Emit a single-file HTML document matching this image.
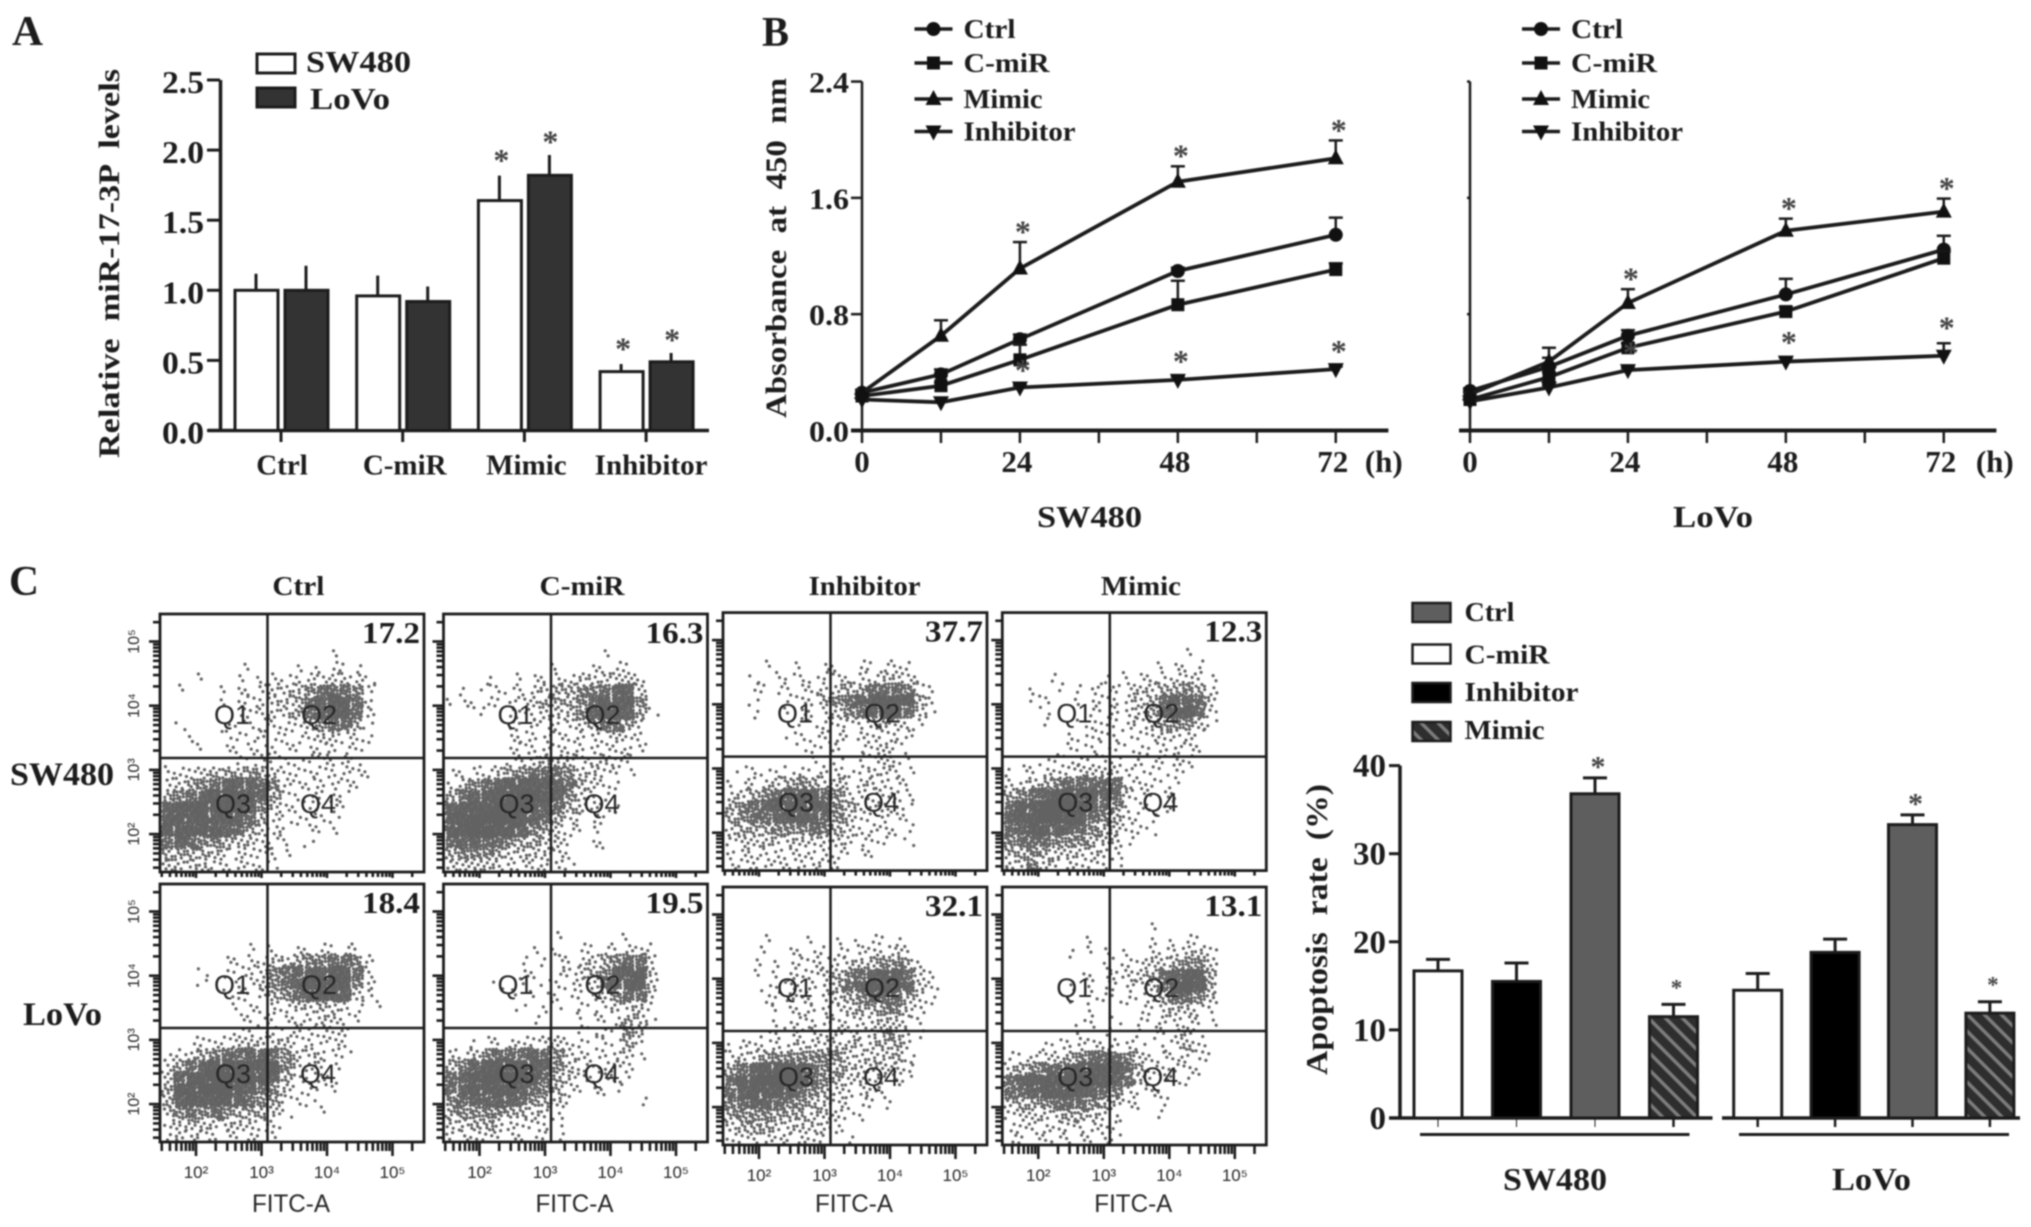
<!DOCTYPE html>
<html lang="en">
<head>
<meta charset="utf-8">
<title>miR-17-3P figure</title>
<style>
html,body{margin:0;padding:0;background:#fff;width:2031px;height:1227px;overflow:hidden}
#figure{display:block;filter:blur(0.9px)}
.s{font-family:"Liberation Serif",serif;font-weight:bold;fill:#1c1c1c}
.f{font-family:"Liberation Sans",sans-serif;fill:#262626}
</style>
</head>
<body>
<svg id="figure" xmlns="http://www.w3.org/2000/svg" width="2031" height="1227" viewBox="0 0 2031 1227">
  <defs>
    <pattern id="hatch" width="12" height="12" patternUnits="userSpaceOnUse" patternTransform="rotate(-45)">
      <rect width="12" height="12" fill="#2e2e2e"/>
      <rect x="0" width="3.5" height="12" fill="#7c7c7c"/>
    </pattern>
  </defs>
  <rect width="2031" height="1227" fill="#fff"/>

  <text class="s" x="12" y="45" font-size="42" textLength="31" lengthAdjust="spacingAndGlyphs">A</text>
  <text class="s" x="762" y="46" font-size="42" textLength="27" lengthAdjust="spacingAndGlyphs">B</text>
  <text class="s" x="9" y="595" font-size="42" textLength="30" lengthAdjust="spacingAndGlyphs">C</text>

  <text class="s" transform="translate(119 458) rotate(-90)" font-size="30" textLength="389" lengthAdjust="spacingAndGlyphs" xml:space="preserve">Relative  miR-17-3P  levels</text>
  <text class="s" transform="translate(786 418) rotate(-90)" font-size="30" textLength="340" lengthAdjust="spacingAndGlyphs" xml:space="preserve">Absorbance  at  450  nm</text>
  <text class="s" transform="translate(1327 1075) rotate(-90)" font-size="31" textLength="291" lengthAdjust="spacingAndGlyphs" xml:space="preserve">Apoptosis  rate  (%)</text>

  <text class="s" x="1037" y="527" font-size="31" textLength="105" lengthAdjust="spacingAndGlyphs">SW480</text>
  <text class="s" x="1673" y="527" font-size="31" textLength="80" lengthAdjust="spacingAndGlyphs">LoVo</text>
  <text class="s" x="1503" y="1190" font-size="32" textLength="104" lengthAdjust="spacingAndGlyphs">SW480</text>
  <text class="s" x="1832" y="1190" font-size="32" textLength="79" lengthAdjust="spacingAndGlyphs">LoVo</text>

  <text class="s" x="10" y="785" font-size="33" textLength="104" lengthAdjust="spacingAndGlyphs">SW480</text>
  <text class="s" x="23" y="1025" font-size="33" textLength="79" lengthAdjust="spacingAndGlyphs">LoVo</text>

  <g id="panelA"></g>
  <g id="panelB"></g>
  <g id="panelFlow"></g>
  <g id="panelC"></g>
</svg>

<script>
/* ---------- Panel A data ---------- */
const aCategories = ["Ctrl", "C-miR", "Mimic", "Inhibitor"];
const aSw480 = [1.0, 0.96, 1.64, 0.42];
const aLovo = [1.0, 0.92, 1.82, 0.49];
const aSw480Err = [1.118, 1.105, 1.818, 0.474];
const aLovoErr = [1.175, 1.027, 1.965, 0.553];
const aSw480Star = [false, false, true, true];
const aLovoStar = [false, false, true, true];
const aTicks = ["0.0", "0.5", "1.0", "1.5", "2.0", "2.5"];

/* ---------- Panel B data ---------- */
const hours = [0, 12, 24, 48, 72];
const hourTicks = [0, 12, 24, 36, 48, 60, 72];
const hourLabels = [0, 24, 48, 72];
const bTicks = ["0.0", "0.8", "1.6", "2.4"];
const seriesNames = ["Ctrl", "C-miR", "Mimic", "Inhibitor"];

const swCtrl = [0.26, 0.386, 0.628, 1.097, 1.346];
const swCmir = [0.237, 0.308, 0.486, 0.865, 1.107];
const swMimic = [0.26, 0.652, 1.114, 1.711, 1.872];
const swInhib = [0.213, 0.194, 0.296, 0.348, 0.422];
const swCtrlErr = [0.28, 0.42, 0.66, 1.12, 1.464];
const swCmirErr = [0.25, 0.33, 0.59, 1.03, 1.15];
const swMimicErr = [0.28, 0.758, 1.296, 1.817, 1.995];
const swInhibErr = [0.22, 0.2, 0.31, 0.37, 0.44];

const loCtrl = [0.272, 0.438, 0.652, 0.936, 1.244];
const loCmir = [0.213, 0.367, 0.569, 0.818, 1.185];
const loMimic = [0.249, 0.474, 0.877, 1.374, 1.505];
const loInhib = [0.2, 0.296, 0.415, 0.474, 0.514];
const loCtrlErr = [0.29, 0.5, 0.69, 1.043, 1.339];
const loCmirErr = [0.22, 0.4, 0.6, 0.85, 1.23];
const loMimicErr = [0.26, 0.569, 0.972, 1.457, 1.595];
const loInhibErr = [0.21, 0.31, 0.43, 0.5, 0.6];

const mimicStars = [false, false, true, true, true];
const inhibStars = [false, false, true, true, true];

/* ---------- Panel C bar data ---------- */
const cTicks = [0, 10, 20, 30, 40];
const cGroups = ["C-miR", "Inhibitor", "Ctrl", "Mimic"];
const cSw480 = [16.7, 15.5, 36.8, 11.5];
const cLovo = [14.5, 18.8, 33.3, 11.9];
const cSw480Err = [18.0, 17.6, 38.6, 12.9];
const cLovoErr = [16.4, 20.3, 34.4, 13.2];
const cStars = [false, false, true, true];
const cLegend = ["Ctrl", "C-miR", "Inhibitor", "Mimic"];

/* ---------- Flow plots: event density per grid cell (0-9) ---------- */
const flowConditions = ["Ctrl", "C-miR", "Inhibitor", "Mimic"];
const percentSw480 = ["17.2", "16.3", "37.7", "12.3"];
const percentLovo = ["18.4", "19.5", "32.1", "13.1"];
const densitySwCtrl = ["","","",
"0000000000000010000000","0000000100010111100000","0001001012122233210000",
"0100011123335666520000","0000011223346788620000","0000001223346788620000",
"0100011122123566410000","0010011121112332210000","0001011212111221200000",
"0000001111111222100000","1223444443212222210000","2345677765222222100000",
"4567888874211221000000","7888888753211111000000","8888887642111110000000",
"8888876432101110000000","6765543322101000000000","4444322222100000000000",
"3333222211000000000000"];
const densitySwCmir = ["","","",
"0000000000000100000000","0000000001001111000000","0001001112233333200000",
"0101112234455677300000","1111122344456888500000","0001012233357887410000",
"0000011212234664200000","0000012222222232200000","0000012222222222200000",
"0000012333322322000000","1122345666533221000000","2356788887643210000000",
"4678889987532100000000","7888999876432110000000","8899998764211100000000",
"8899887543211000000000","6776654433101100000000","4555433332100000000000",
"3333322222100000000000"];
const densitySwInhib = ["","","","",
"0001001011011121000000","0010111112122332100000",
"0011111223446665210000","0010012245678888420000","0010011123567886310000",
"0000001112223432100000","0000011122122222000000","0000001112012320000000",
"0000000101012321000000","0111111122113321000000","1122345433223221000000",
"2345678765322222000000","4567888875422321000000","4566788765321221000000",
"3444555654322211000000","2333333333212101000000","2222222222111000000000",
"1222222222000000000000"];
const densitySwMimic = ["","","",
"0000000000000001000000","0000000000000111100000","0000100010112122210000",
"0010101212233445420000","0011001122234677630000","0001000112234788620000",
"0001001121223455310000","0000011121112332100000","0000011111111222100000",
"0001111111011222000000","1112223333211111000000","2234566666221110000000",
"4567888876321110000000","6889998765211110000000","7889988654211000000000",
"6788776543211000000000","5666555433100000000000","4454333322000000000000",
"3353222211000000000000"];
const densityLoCtrl = ["","","","",
"0000000000000000000000","0000000101011111100000",
"0000011223345566520000","0001011235677788620000","0001001235678888520000",
"0000011124567887310000","0000001112233432101000","0000001112122332100000",
"0000001111122222000000","0011223333322221000000","1134566776533221000000",
"2467888888533210000000","3788999887422210000000","4889998765311110000000",
"4788887654211000000000","3565654443100100000000","2343333322000000000000",
"1322211211000000000000"];
const densityLoCmir = ["","","","",
"0000000001000001000000","0000000101011112210000",
"0000001011123456620000","0000001101234578830000","0000101011123678830000",
"0000010111112356620000","0000001011011133310000","0000000100011124310000",
"0000000000011115300000","0011122233211114200000","2235666765321223100000",
"4578888875321232000000","6789999864321221000000","6788887654211110000000",
"5677776543100000100000","4555544321000000000000","3344322211000000000000",
"2222211111000000000000"];
const densityLoInhib = ["","","","",
"0001000101011110000000","0001011111122231000000",
"0010111222334554200000","0010122234567886310000","0001122224678887320000",
"0001122123456664210000","0000112222344553200000","0000112222223332100000",
"0001112223223442100000","1222223333333442000000","2334555555333342000000",
"4678888654333332000000","6889998654332221000000","6788876543222200000000",
"5677655432111100000000","4555444333110000000000","3444333332000000000000",
"2222222210100000000000"];
const densityLoMimic = ["","","",
"0000000000001000000000","0000000100001011100000","0000010110102123320000",
"0000000011123345530000","0000001112334678840000","0000010111223689840000",
"0000010111112466530000","0000000100011333210000","0000001101011222110000",
"0000001010011123100000","0001122222210124200000","1122345666532122110000",
"3456678888642212100000","6788899987631121000000","6678888765211100000000",
"3445666543210100000000","2333344321000100000000","1222222221000000000000",
"1111121121000000000000"];
const xDecadeLabels = ["10²", "10³", "10⁴", "10⁵"];
const yDecadeLabels = ["10⁵", "10⁴", "10³", "10²"];

/* ---------- helpers ---------- */
const NS = "http://www.w3.org/2000/svg";
function mk(tag, attrs, parent) {
  const e = document.createElementNS(NS, tag);
  for (const k in attrs) e.setAttribute(k, attrs[k]);
  parent.appendChild(e);
  return e;
}
function line(x1, y1, x2, y2, w, parent, color) {
  return mk("line", {x1: x1, y1: y1, x2: x2, y2: y2, stroke: color || "#1c1c1c", "stroke-width": w}, parent);
}
function text(str, x, y, size, parent, anchor, len) {
  const attrs = {x: x, y: y, "font-size": size, "class": "s", "text-anchor": anchor || "start"};
  if (len) { attrs.textLength = len; attrs.lengthAdjust = "spacingAndGlyphs"; }
  const t = mk("text", attrs, parent);
  t.textContent = str;
  return t;
}
function star(cx, cy, size, parent) {
  const t = text("*", cx, cy + size * 0.48, size, parent, "middle");
  t.style.fill = "#444";
  return t;
}
function markerShape(kind, x, y, parent) {
  let m;
  if (kind === 0) m = mk("circle", {cx: x, cy: y, r: 7, fill: "#111"}, parent);
  else if (kind === 1) m = mk("rect", {x: x - 6.5, y: y - 6.5, width: 13, height: 13, fill: "#111"}, parent);
  else if (kind === 2) m = mk("path", {d: "M" + x + " " + (y - 9) + "L" + (x + 8) + " " + (y + 6) + "L" + (x - 8) + " " + (y + 6) + "Z", fill: "#111"}, parent);
  else m = mk("path", {d: "M" + x + " " + (y + 9) + "L" + (x + 8) + " " + (y - 6) + "L" + (x - 8) + " " + (y - 6) + "Z", fill: "#111"}, parent);
  return m;
}

/* ---------- Panel A ---------- */
(function () {
  const g = document.getElementById("panelA");
  const yA = v => 430.5 - 140.2 * v;
  const xA = i => 281 + 121.7 * i;
  const axisY = line(220.5, yA(2.5), 220.5, yA(0), 3.5, g);
  
  
  const axisX = line(208, yA(0), 709, yA(0), 3.5, g);
  
  
  aTicks.forEach(lbl => {
    const v = parseFloat(lbl);
    const tk = line(207, yA(v), 220, yA(v), 3, g);
    
    
    const t = text(lbl, 204, yA(v) + 13, 32, g, "end", 42);
    
    
  });
  aCategories.forEach((c, i) => {
    const cx = xA(i);
    const tk = line(cx, yA(0), cx, 442, 3, g);
    
    
    const lab = text(c, cx + [1, 2, 2, 5][i], 474.5, 29, g, "middle");
    
    

    const e1 = line(cx - 25, yA(aSw480[i]), cx - 25, yA(aSw480Err[i]), 3, g);
    
    
    const b1 = mk("rect", {x: cx - 46, y: yA(aSw480[i]), width: 43, height: yA(0) - yA(aSw480[i]), fill: "#fff", stroke: "#1c1c1c", "stroke-width": 3}, g);
    
    
    const e2 = line(cx + 25, yA(aLovo[i]), cx + 25, yA(aLovoErr[i]), 3, g);
    
    
    const b2 = mk("rect", {x: cx + 4, y: yA(aLovo[i]), width: 43, height: yA(0) - yA(aLovo[i]), fill: "#333", stroke: "#1c1c1c", "stroke-width": 3}, g);
    
    
    if (aSw480Star[i]) {
      const s = star(cx - 23, yA(aSw480Err[i]) - 20, 32, g);
      
      
    }
    if (aLovoStar[i]) {
      const s = star(cx + 26, yA(aLovoErr[i]) - 18, 32, g);
      
      
    }
  });
  const l1 = mk("rect", {x: 257, y: 54, width: 38, height: 19, fill: "#fff", stroke: "#1c1c1c", "stroke-width": 3}, g);
  
  
  const l2 = mk("rect", {x: 257, y: 88, width: 38, height: 19, fill: "#333", stroke: "#1c1c1c", "stroke-width": 3}, g);
  
  
  const lt1 = text("SW480", 306, 72, 31, g, "start", 105);
  
  
  const lt2 = text("LoVo", 310, 109, 31, g, "start", 80);
  
  
})();

/* ---------- Panel B ---------- */
function drawLinePanel(x0, label, showLabels, values, errs, legendX, labelOffset) {
  const g = document.getElementById("panelB");
  const yB = v => 430.5 - 145.4 * v;
  const xB = h => x0 + 6.58 * h;
  const axY = line(x0, yB(2.4), x0, yB(0), 2.5, g);
  
  
  const axX = line(x0 - 11, yB(0), xB(80), yB(0), 4, g);
  
  
  bTicks.forEach(lbl => {
    const v = parseFloat(lbl);
    const tk = line(x0 - (showLabels ? 11 : 3), yB(v), x0, yB(v), 2.5, g);
    
    
    if (showLabels) {
      const t = text(lbl, x0 - 13, yB(v) + 11, 30, g, "end", 40);
      
      
    }
  });
  hourTicks.forEach(h => {
    const tk = line(xB(h), yB(0), xB(h), 443, 2.5, g);
    
    
  });
  hourLabels.forEach(h => {
    const t = text(String(h), xB(h) - (h ? 3 : 0), 472, 31, g, "middle");
    
    
  });
  const unit = text("(h)", xB(72) + labelOffset, 472, 31, g, "middle");
  
  

  values.forEach((vals, s) => {
    const pts = hours.map((h, i) => xB(h) + "," + yB(vals[i])).join(" ");
    const pl = mk("polyline", {points: pts, fill: "none", stroke: "#1c1c1c", "stroke-width": 3.8}, g);
    
    
    hours.forEach((h, i) => {
      const x = xB(h), top = yB(errs[s][i]);
      const eb = line(x, yB(vals[i]), x, top, 2.5, g);
      
      
      const cap = line(x - 7, top, x + 7, top, 2.5, g);
      
      
      const m = markerShape(s, x, yB(vals[i]), g);
      
      
    });
  });
  hours.forEach((h, i) => {
    if (mimicStars[i]) {
      const s = star(xB(h) + 3, yB(errs[2][i]) - 15, 32, g);
      
      
    }
    if (inhibStars[i]) {
      const s = star(xB(h) + 3, yB(errs[3][i]) - 20, 32, g);
      
      
    }
  });
  const legendRows = [29, 63, 99, 131.5];
  const widths = [52, 86, 79, 112];
  seriesNames.forEach((n, s) => {
    const ly = legendRows[s];
    const ll = line(legendX - 19, ly, legendX + 19, ly, 3.5, g);
    
    
    const lm = markerShape(s, legendX, ly, g);
    
    
    const lt = text(n, legendX + 30, ly + 9, 27, g, "start", widths[s]);
    
    
  });
}
drawLinePanel(862, "sw480", true, [swCtrl, swCmir, swMimic, swInhib], [swCtrlErr, swCmirErr, swMimicErr, swInhibErr], 933.5, 48);
drawLinePanel(1470, "lovo", false, [loCtrl, loCmir, loMimic, loInhib], [loCtrlErr, loCmirErr, loMimicErr, loInhibErr], 1541, 51);

/* ---------- Flow plots ---------- */
(function () {
  const g = document.getElementById("panelFlow");
  const lefts = [160, 443.5, 723, 1002.3];
  const topsRow = [[614, 614, 612.6, 612.6], [884, 884, 887, 887]];
  const W = 264, H = 258, COLS = 22, ROWS = 22;
  const grids = [
    [densitySwCtrl, densitySwCmir, densitySwInhib, densitySwMimic],
    [densityLoCtrl, densityLoCmir, densityLoInhib, densityLoMimic]
  ];
  const percents = [percentSw480, percentLovo];
  const countFor = d => [0, 2, 3, 5, 8, 12, 17, 23, 30, 40][d];
  const headWidths = [52, 85, 112, 80];
  const headCenters = [298.4, 582, 864.6, 1140.9];

  flowConditions.forEach((name, c) => {
    const h = text(name, headCenters[c], 595, 27, g, "middle", headWidths[c]);
    
    
    [0, 1].forEach(r => {
      const L = lefts[c], T = topsRow[r][c];
      const cw = W / COLS, ch = H / ROWS;
      let n = 0, d = "";
      grids[r][c].forEach((row, ry) => {
        for (let cx = 0; cx < row.length; cx++) {
          const count = countFor(+row[cx]);
          for (let k = 0; k < count; k++) {
            n++;
            const u = (n * 0.7548776662) % 1;
            const v = (n * 0.5698402910) % 1;
            const px = L + 2 + (cx + u) * cw * 0.985;
            const py = T + (ry + v) * ch;
            d += "M" + px.toFixed(1) + " " + Math.min(py, T + H - 2).toFixed(1) + "h.01";
          }
        }
      });
      const dots = mk("path", {d: d, fill: "none", stroke: "#626262", "stroke-width": 3.2, "stroke-linecap": "round"}, g);
      
      

      const box = mk("rect", {x: L, y: T, width: W, height: H, fill: "none", stroke: "#1c1c1c", "stroke-width": 2.8}, g);
      
      
      const vg = line(L + 107.5, T, L + 107.5, T + H, 2.5, g);
      
      
      const hg = line(L, T + 144, L + W, T + 144, 2.5, g);
      
      

      ["Q1", "Q2", "Q3", "Q4"].forEach((q, qi) => {
        const qx = L + [72, 159, 73, 158][qi];
        const qy = T + [110, 110, 199, 199][qi];
        const t = mk("text", {x: qx, y: qy, "font-size": 27, "class": "f", "text-anchor": "middle"}, g);
        t.textContent = q;
        
        
      });
      const pct = text(percents[r][c], L + W - 4, T + 29, 31, g, "end", 58);
      
      

      const xLog = lg => L + 36 + (lg - 2) * 65.5;
      const yLog = lg => T + 27.5 + (5 - lg) * 64.2;
      const longX = r ? 14 : 6, shortX = r ? 9 : 5;
      for (let dec = 1; dec <= 5; dec++) {
        for (let m = 1; m <= 9; m++) {
          const lg = dec + Math.log10(m);
          const tx = xLog(lg);
          if (tx > L + 1 && tx < L + W - 1) {
            const tk = line(tx, T + H, tx, T + H + (m === 1 ? longX : shortX), 2.6, g);
            
            
          }
          const ty = yLog(lg);
          if (ty > T + 1 && ty < T + H - 1) {
            const tk = line(L - (m === 1 ? 11 : 7), ty, L, ty, 2.6, g);
            
            
          }
        }
      }
      if (c === 0) {
        yDecadeLabels.forEach((lb, i) => {
          const yy = yLog(5 - i);
          const t = mk("text", {transform: "translate(139 " + yy + ") rotate(-90)", "font-size": 16, "class": "f", "text-anchor": "middle"}, g);
          t.textContent = lb;
          
          
        });
      }
      if (r === 1) {
        xDecadeLabels.forEach((lb, i) => {
          const t = mk("text", {x: xLog(2 + i), y: T + H + 36, "font-size": 17, "class": "f", "text-anchor": "middle"}, g);
          t.textContent = lb;
          
          
        });
        const ft = mk("text", {x: L + 131, y: 1212, "font-size": 25, "class": "f", "text-anchor": "middle", textLength: 78, lengthAdjust: "spacingAndGlyphs"}, g);
        ft.textContent = "FITC-A";
        
        
      }
    });
  });
})();

/* ---------- Panel C bars ---------- */
(function () {
  const g = document.getElementById("panelC");
  const yC = v => 1118 - 8.81 * v;
  const fills = {"C-miR": "#fff", "Inhibitor": "#000", "Ctrl": "#5e5e5e", "Mimic": "url(#hatch)"};
  const axY = line(1400, yC(40), 1400, yC(0), 3.5, g);
  
  
  const ax1 = line(1389, yC(0), 1712.5, yC(0), 3.5, g);
  
  
  const ax2 = line(1722, yC(0), 2020, yC(0), 3.5, g);
  
  
  cTicks.forEach(v => {
    const tk = line(1389, yC(v), 1400, yC(v), 3, g);
    
    
    const t = text(String(v), 1386, yC(v) + 11, 33, g, "end");
    
    
  });
  function group(vals, errs, start, step, tag, sepL, sepR) {
    cGroups.forEach((name, i) => {
      const cx = start + step * i;
      const tk = line(cx, yC(0), cx, 1127, tag === "sw480" && i < 3 ? 1 : 2.5, g);
      
      
      const top = yC(errs[i]);
      const eb = line(cx, yC(vals[i]), cx, top, 3, g);
      
      
      const cap = line(cx - 12, top, cx + 12, top, 3, g);
      
      
      const b = mk("rect", {x: cx - 24, y: yC(vals[i]), width: 48, height: yC(0) - yC(vals[i]), fill: fills[name], stroke: "#1c1c1c", "stroke-width": 3}, g);
      
      
      if (cStars[i]) {
        const big = name === "Ctrl";
        const s = star(cx + 3, top - (big ? 16 : 20), big ? 30 : 23, g);
        
        
      }
    });
    const sep = line(sepL, 1134.5, sepR, 1134.5, 3, g);
    
    
  }
  group(cSw480, cSw480Err, 1438, 78.5, "sw480", 1420, 1689.5);
  group(cLovo, cLovoErr, 1757.7, 77.4, "lovo", 1739, 2009);

  const swatchTops = [603, 644.5, 683, 722];
  const labelBase = [621, 663.5, 701, 739];
  const labelWidths = [50, 85, 114, 80];
  const legendFill = [fills["Ctrl"], fills["C-miR"], fills["Inhibitor"], fills["Mimic"]];
  cLegend.forEach((n, i) => {
    const sw = mk("rect", {x: 1412.5, y: swatchTops[i], width: 38, height: 19, fill: legendFill[i], stroke: "#1c1c1c", "stroke-width": 2.5}, g);
    
    
    const t = text(n, 1464.5, labelBase[i], 27, g, "start", labelWidths[i]);
    
    
  });
})();
</script>
</body>
</html>
